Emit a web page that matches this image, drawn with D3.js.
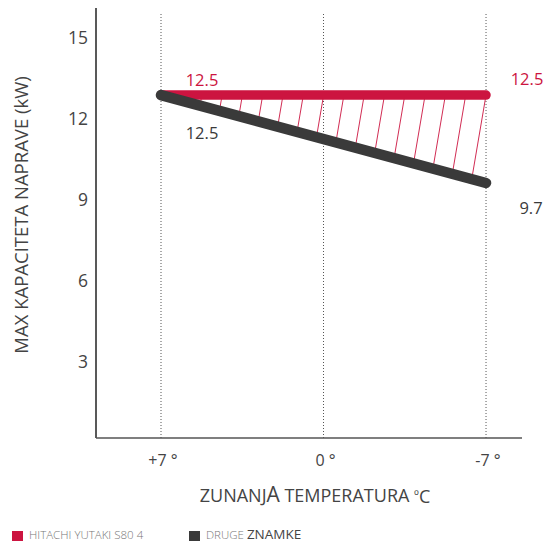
<!DOCTYPE html>
<html>
<head>
<meta charset="utf-8">
<script src="https://cdn.jsdelivr.net/npm/d3@7"></script>
<style>
  body { margin: 0; background: #fff; }
  text { font-family: "Open Sans", sans-serif; }
</style>
</head>
<body>
<svg width="546" height="542"></svg>
<script>
var svg = d3.select("svg");

// data
var temps = [7, 0, -7];
var tempLabels = ["+7 °", "0 °", "-7 °"];
var yTicks = [3, 6, 9, 12, 15];
var hitachi = [12.88, 12.88];      // plotted at +7 and -7
var druge = [12.88, 9.63];
var hitachiLabels = ["12.5", "12.5"];
var drugeLabels = ["12.5", "9.7"];
var ends = [7, -7];

var red = "#cc1440";
var dark = "#3a3a3a";

var x = d3.scaleLinear().domain([9.8, -8.55]).range([96, 522]);
var y = d3.scaleLinear().domain([0.2, 16.1]).range([438, 8]);

// dotted verticals
svg.append("g").selectAll("line")
  .data(temps).enter().append("line")
  .attr("x1", d => x(d)).attr("x2", d => x(d))
  .attr("y1", 14).attr("y2", y(0.2))
  .attr("stroke", "#555").attr("stroke-width", 1)
  .attr("stroke-dasharray", "1,2");

// axes
svg.append("line")
  .attr("x1", x(9.8)).attr("x2", x(9.8))
  .attr("y1", y(16.1)).attr("y2", y(0.2))
  .attr("stroke", "#222").attr("stroke-width", 1.5);
svg.append("line")
  .attr("x1", x(9.8)).attr("x2", x(-8.55))
  .attr("y1", y(0.2)).attr("y2", y(0.2))
  .attr("stroke", "#555").attr("stroke-width", 1.5);

svg.append("g").selectAll("text")
  .data(yTicks).enter().append("text")
  .attr("x", 88).attr("y", d => y(d))
  .attr("dy", "0.35em")
  .attr("text-anchor", "end")
  .attr("font-size", 17.5).attr("fill", "#444")
  .text(d => d);

svg.append("g").selectAll("text")
  .data(temps).enter().append("text")
  .attr("x", (d, i) => x(d) + 2).attr("y", 460)
  .attr("dy", "0.35em")
  .attr("text-anchor", "middle")
  .attr("font-size", 16).attr("fill", "#444")
  .text((d, i) => tempLabels[i]);

// axis titles
svg.append("text")
  .attr("transform", "translate(22," + 215 + ") rotate(-90)")
  .attr("dy", "0.35em")
  .attr("text-anchor", "middle")
  .attr("font-size", 18.5).attr("fill", "#444")
  .text("MAX KAPACITETA NAPRAVE (kW)");

var xt = svg.append("text")
  .attr("x", 315).attr("y", 496)
  .attr("dy", "0.35em")
  .attr("text-anchor", "middle")
  .attr("font-size", 18).attr("fill", "#444");
xt.append("tspan").text("ZUNANJ");
xt.append("tspan").attr("font-size", 21).text("A");
xt.append("tspan").text(" TEMPERATURA ");
xt.append("tspan").attr("font-size", 13).attr("dy", "-0.2em").text("º");
xt.append("tspan").attr("dy", "0.2em").text("C");

// hatching between the two lines
var area = [
  [x(ends[0]), y(hitachi[0])],
  [x(ends[1]), y(hitachi[1])],
  [x(ends[1]), y(druge[1])],
  [x(ends[0]), y(druge[0])]
];
svg.append("clipPath").attr("id", "gap")
  .append("polygon")
  .attr("points", area.map(p => p.join(",")).join(" "));

var hatchX = d3.range(x(ends[1]), x(ends[0]), -20.3);
svg.append("g").attr("clip-path", "url(#gap)")
  .selectAll("line").data(hatchX).enter().append("line")
  .attr("x1", d => d).attr("y1", y(hitachi[1]))
  .attr("x2", d => d - 0.17 * (y(druge[1]) - y(hitachi[1]))).attr("y2", y(druge[1]))
  .attr("stroke", red).attr("stroke-width", 0.9);

var line = d3.line().x((d, i) => x(ends[i])).y(d => y(d));

svg.append("path")
  .attr("d", line(hitachi))
  .attr("fill", "none").attr("stroke", red)
  .attr("stroke-width", 9.5).attr("stroke-linecap", "round");

svg.append("path")
  .attr("d", line(druge))
  .attr("fill", "none").attr("stroke", dark)
  .attr("stroke-width", 10.5).attr("stroke-linecap", "round");

// value labels
svg.append("text").attr("x", 202).attr("y", 80).attr("dy", "0.35em")
  .attr("text-anchor", "middle").attr("font-size", 16.5).attr("fill", red)
  .text(hitachiLabels[0]);
svg.append("text").attr("x", 527).attr("y", 79).attr("dy", "0.35em")
  .attr("text-anchor", "middle").attr("font-size", 16.5).attr("fill", red)
  .text(hitachiLabels[1]);
svg.append("text").attr("x", 202).attr("y", 133).attr("dy", "0.35em")
  .attr("text-anchor", "middle").attr("font-size", 16.5).attr("fill", dark)
  .text(drugeLabels[0]);
svg.append("text").attr("x", 531).attr("y", 208).attr("dy", "0.35em")
  .attr("text-anchor", "middle").attr("font-size", 16.5).attr("fill", dark)
  .text(drugeLabels[1]);

// legend
svg.append("rect").attr("x", 12).attr("y", 531).attr("width", 11).attr("height", 10).attr("fill", red);
svg.append("text").attr("x", 29).attr("y", 535).attr("dy", "0.35em")
  .attr("font-size", 11.5).attr("font-weight", 300).attr("fill", "#777").text("HITACHI YUTAKI S80 4");
svg.append("rect").attr("x", 189).attr("y", 531).attr("width", 11).attr("height", 10).attr("fill", dark);
var lg = svg.append("text").attr("x", 206).attr("y", 535).attr("dy", "0.35em")
  .attr("font-size", 11.5).attr("font-weight", 300).attr("fill", "#777");
lg.append("tspan").text("DRUGE ");
lg.append("tspan").attr("font-size", 13.5).attr("font-weight", 400).attr("fill", "#444").text("ZNAMKE");
</script>
</body>
</html>
